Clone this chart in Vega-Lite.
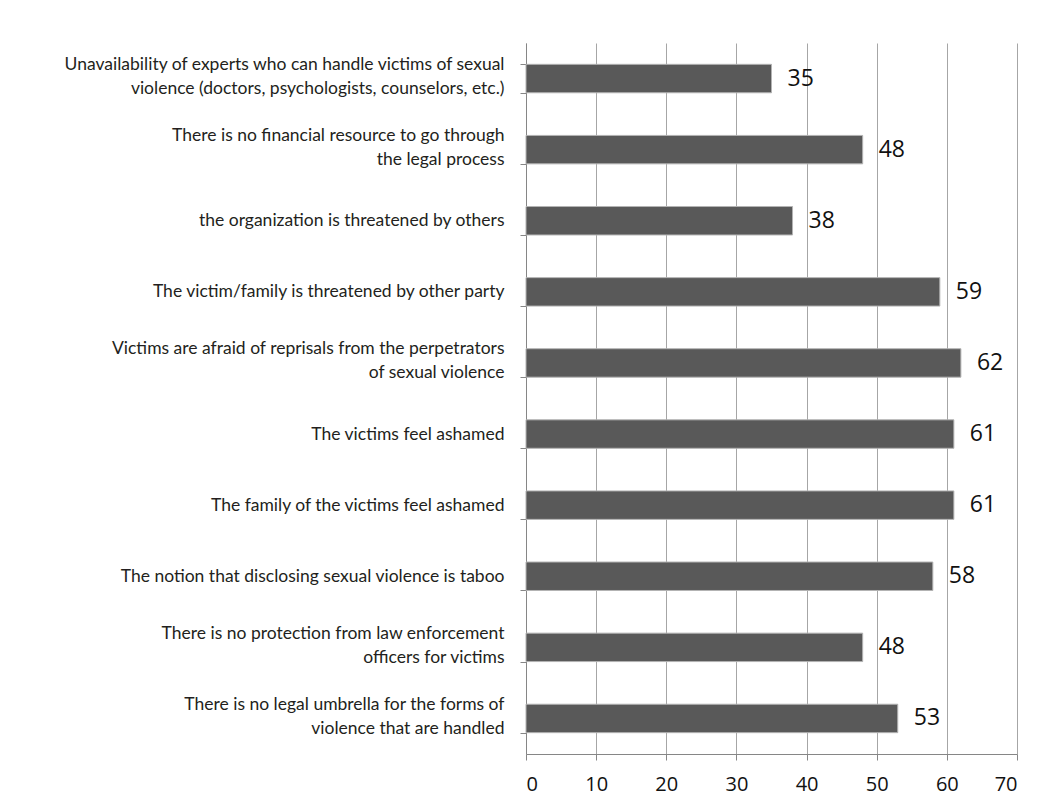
{
  "$schema": "https://vega.github.io/schema/vega-lite/v6.json",
  "autosize": "none",
  "width": 491,
  "height": 711,
  "padding": {"left": 526, "top": 43, "right": 31, "bottom": 56},
  "background": "white",
  "config": {"view": {"stroke": null}},
  "data": {
    "values": [
      {"reason": "Unavailability of experts who can handle victims of sexual\nviolence (doctors, psychologists, counselors, etc.)", "value": 35},
      {"reason": "There is no financial resource to go through\nthe legal process", "value": 48},
      {"reason": "the organization is threatened by others", "value": 38},
      {"reason": "The victim/family is threatened by other party", "value": 59},
      {"reason": "Victims are afraid of reprisals from the perpetrators\nof sexual violence", "value": 62},
      {"reason": "The victims feel ashamed", "value": 61},
      {"reason": "The family of the victims feel ashamed", "value": 61},
      {"reason": "The notion that disclosing sexual violence is taboo", "value": 58},
      {"reason": "There is no protection from law enforcement\nofficers for victims", "value": 48},
      {"reason": "There is no legal umbrella for the forms of\nviolence that are handled", "value": 53}
    ]
  },
  "encoding": {
    "y": {
      "field": "reason",
      "type": "nominal",
      "sort": null,
      "scale": {"paddingInner": 0.6, "paddingOuter": 0.3},
      "axis": {
        "title": null,
        "labelExpr": "split(datum.label, '\\n')",
        "labelFont": "Lato",
        "labelFontSize": 17.5,
        "labelColor": "#231f20",
        "labelLineHeight": 24,
        "labelLimit": 520,
        "labelPadding": 16,
        "labelOffset": {"condition": {"test": "indexof(datum.label, '\\n') >= 0", "value": -14}, "value": 0},
        "tickBand": "extent",
        "tickSize": 6,
        "tickColor": "#868686",
        "domainColor": "#868686",
        "grid": false
      }
    }
  },
  "layer": [
    {
      "mark": {"type": "bar", "color": "#595959", "stroke": "#b3b3b3", "strokeWidth": 1},
      "encoding": {
        "x": {
          "field": "value",
          "type": "quantitative",
          "scale": {"domain": [0, 70]},
          "axis": {
            "title": null,
            "values": [0, 10, 20, 30, 40, 50, 60, 70],
            "grid": true,
            "gridColor": "#a6a6a6",
            "gridWidth": 1,
            "domainColor": "#868686",
            "tickColor": "#868686",
            "tickSize": 6,
            "labelFont": "Open Sans",
            "labelFontSize": 20,
            "labelColor": "#111111",
            "labelPadding": 14
          }
        }
      }
    },
    {
      "mark": {"type": "text", "align": "left", "baseline": "middle", "dx": 16, "font": "Open Sans", "fontSize": 23, "color": "#111111"},
      "encoding": {
        "x": {"field": "value", "type": "quantitative"},
        "text": {"field": "value", "type": "quantitative"}
      }
    }
  ]
}
